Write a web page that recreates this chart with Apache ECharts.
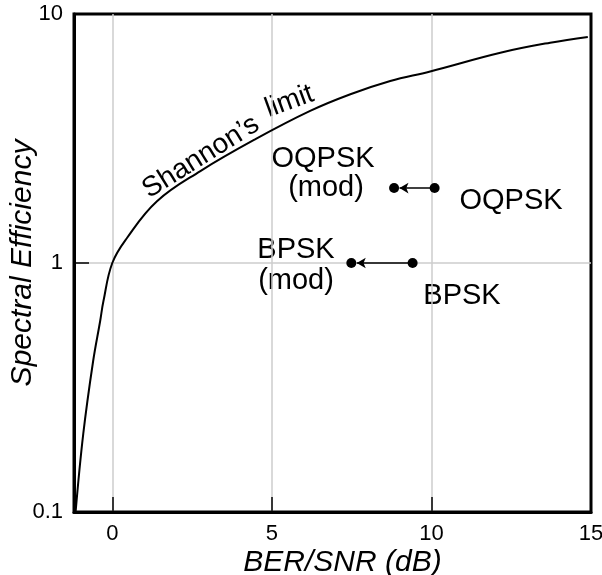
<!DOCTYPE html>
<html>
<head>
<meta charset="utf-8">
<script src="https://cdn.jsdelivr.net/npm/echarts@6/dist/echarts.min.js"></script>
<style>
  html, body { margin: 0; padding: 0; background: #fff; }
  #main { width: 602px; height: 575px; }
</style>
</head>
<body>
<div id="main"></div>
<script>
// Shannon's limit curve
var curveX = [-1.15, -0.91, -0.6, -0.38, -0.28, 0, 0.46, 1.4, 2.76, 4.5, 6.2, 7.46, 8.71, 9.96, 12.16, 13.72, 14.9];
var curveY = [0.1, 0.206, 0.404, 0.585, 0.7, 1, 1.26, 1.77, 2.34, 3.15, 4.08, 4.76, 5.38, 5.88, 6.99, 7.67, 8.09];

// modulations: original point -> modified point
var modNames = ['OQPSK', 'BPSK'];
var ebnoOrig = [10.1, 9.41];
var ebnoMod = [8.83, 7.49];
var specEff = [2, 1];

// tick labels
var xTicks = [0, 5, 10, 15];
var yTicks = [0.1, 1, 10];

var xMin = -1.2, xMax = 15, yMin = 0.1, yMax = 10;
var font = 'Liberation Sans, Arial, Helvetica, sans-serif';
var chart = echarts.init(document.getElementById('main'), null, { renderer: 'canvas' });

var curve = curveX.map(function (x, i) { return [x, curveY[i]]; });
var dots = [];
var arrows = [];
modNames.forEach(function (n, i) {
    dots.push([ebnoOrig[i], specEff[i]]);
    dots.push([ebnoMod[i], specEff[i]]);
    // arrow from original to modified, tip stops at the edge of the dot
    arrows.push([{ coord: [ebnoOrig[i], specEff[i]] }, { coord: [ebnoMod[i] + 0.17, specEff[i]] }]);
});

// grey grid lines under the ticks (splitLine would cover the black ticks)
var gridLines = [];
xTicks.forEach(function (v) { if (v > xMin && v < xMax) gridLines.push({ xAxis: v }); });
yTicks.forEach(function (v) { if (v > yMin && v < yMax) gridLines.push({ yAxis: v }); });

function txt(text, x, y, size, rot, align) {
    return {
        type: 'text',
        x: x, y: y,
        rotation: rot || 0,
        style: {
            text: text,
            font: size + 'px ' + font,
            fill: '#000',
            align: align || 'center',
            verticalAlign: 'middle'
        }
    };
}

var option = {
    backgroundColor: '#fff',
    animation: false,
    grid: {
        left: 74, right: 11, top: 14, bottom: 63,
        outerBoundsMode: 'none',
        containLabel: false,
        show: true,
        borderColor: '#000',
        borderWidth: 3
    },
    xAxis: {
        type: 'value',
        z: 5,
        min: xMin,
        max: xMax,
        name: 'BER/SNR (dB)',
        nameLocation: 'middle',
        nameGap: 36,
        nameMoveOverlap: false,
        nameTextStyle: { fontFamily: font, fontSize: 30, fontStyle: 'italic', color: '#000', padding: [0, 0, 0, 20] },
        axisLine: { onZero: false, lineStyle: { color: '#000', width: 3 } },
        axisTick: { inside: true, length: 15, customValues: xTicks, lineStyle: { color: '#000', width: 1.5 } },
        axisLabel: { customValues: xTicks, fontFamily: font, fontSize: 22, color: '#000', margin: 11 },
        splitLine: { show: false }
    },
    yAxis: {
        type: 'log',
        z: 5,
        logBase: 10,
        min: yMin,
        max: yMax,
        name: 'Spectral Efficiency',
        nameLocation: 'middle',
        nameGap: 36,
        nameMoveOverlap: false,
        nameTextStyle: { fontFamily: font, fontSize: 30, fontStyle: 'italic', color: '#000' },
        axisLine: { onZero: false, lineStyle: { color: '#000', width: 3 } },
        axisTick: { inside: true, length: 15, lineStyle: { color: '#000', width: 1.5 } },
        axisLabel: { fontFamily: font, fontSize: 22, color: '#000', margin: 11,
            formatter: function (v) { return yTicks.indexOf(+v) >= 0 ? String(+v) : ''; } },
        minorTick: { show: false },
        splitLine: { show: false }
    },
    series: [{
        name: "Shannon's limit",
        type: 'line',
        data: curve,
        smooth: 0.4,
        showSymbol: false,
        lineStyle: { color: '#000', width: 2 },
        markLine: {
            silent: true,
            z: 1,
            symbol: ['none', 'none'],
            label: { show: false },
            lineStyle: { color: '#cccccc', width: 1.5, type: 'solid', opacity: 1 },
            data: gridLines
        }
    }, {
        name: 'points',
        type: 'scatter',
        data: dots,
        symbolSize: 10,
        itemStyle: { color: '#000', opacity: 1 },
        markLine: {
            silent: true,
            symbol: ['none', 'arrow'],
            symbolSize: [8, 9],
            label: { show: false },
            lineStyle: { color: '#000', width: 1.5, type: 'solid', opacity: 1 },
            data: arrows
        }
    }],
    graphic: [
        txt('Shannon\u2019s', 145, 192, 28, 32 * Math.PI / 180, 'left'),
        txt('limit', 266, 110, 28, 20 * Math.PI / 180, 'left'),
        txt('OQPSK', 323, 159, 29),
        txt('(mod)', 326, 188, 29),
        txt('OQPSK', 511, 201, 29),
        txt('BPSK', 296, 250, 29),
        txt('(mod)', 296, 281, 29),
        txt('BPSK', 462, 296, 29)
    ]
};
chart.setOption(option);
</script>
</body>
</html>
